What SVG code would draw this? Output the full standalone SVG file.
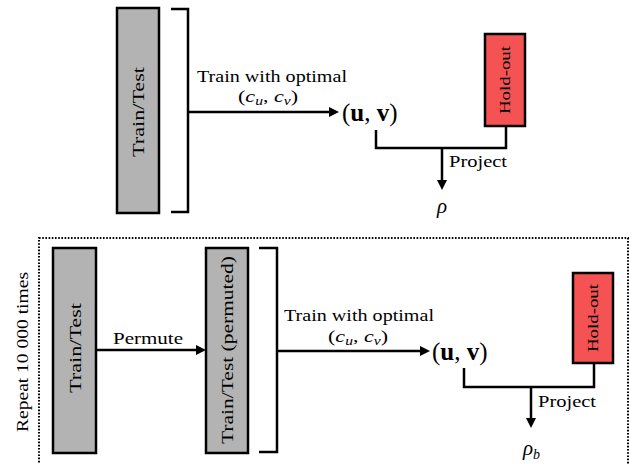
<svg xmlns="http://www.w3.org/2000/svg" width="635" height="464" viewBox="0 0 635 464">
<style>
  .box { stroke:#000; stroke-width:2.5; }
  .gray { fill:#b3b3b3; }
  .red { fill:#f55353; }
  .ln { fill:none; stroke:#000; stroke-width:2.5; }
  .dot { fill:none; stroke:#000; stroke-width:2; stroke-dasharray:1.6 1.6; }
  text { font-family:"Liberation Serif", "DejaVu Serif", "Noto Serif", serif; fill:#000; }
  .lab { font-size:17px; }
  .mid { text-anchor:middle; }
  .math { font-size:17px; }
  .uv { font-size:25px; }
  .it { font-style:italic; }
  .bf { font-weight:bold; }
</style>
<defs>
  <marker id="ah" viewBox="0 0 10 10" refX="1" refY="5" markerWidth="10" markerHeight="10" markerUnits="userSpaceOnUse" orient="auto">
    <path d="M0,0 L10,5 L0,10 Z" fill="#000"/>
  </marker>
</defs>

<rect class="dot" x="39" y="238" width="589" height="240"/>
<text class="lab mid" transform="rotate(-90 22 352)" x="22" y="358" textLength="160" lengthAdjust="spacingAndGlyphs">Repeat 10 000 times</text>

<g id="connectors">
  <path class="ln" d="M171,9 H188 V212 H171"/>
  <path class="ln" d="M188,112 H330" marker-end="url(#ah)"/>
  <path class="ln" d="M376,130 V148 H506 V126"/>
  <path class="ln" d="M442,148 V181" marker-end="url(#ah)"/>
  <path class="ln" d="M96,350 H197" marker-end="url(#ah)"/>
  <path class="ln" d="M259,248 H277 V452 H259"/>
  <path class="ln" d="M277,351 H421" marker-end="url(#ah)"/>
  <path class="ln" d="M464,368 V387 H594 V363"/>
  <path class="ln" d="M531,387 V419" marker-end="url(#ah)"/>
  <text class="lab mid" x="272" y="82" textLength="150" lengthAdjust="spacingAndGlyphs">Train with optimal</text>
  <text class="math mid" x="268" y="102" textLength="60" lengthAdjust="spacingAndGlyphs">(<tspan class="it">c</tspan><tspan class="it" font-size="12" dy="3">u</tspan><tspan dy="-3">, </tspan><tspan class="it">c</tspan><tspan class="it" font-size="12" dy="3">v</tspan><tspan dy="-3">)</tspan></text>
  <text class="lab" x="449" y="167" textLength="58" lengthAdjust="spacingAndGlyphs">Project</text>
  <text class="lab mid" x="148" y="344" textLength="70" lengthAdjust="spacingAndGlyphs">Permute</text>
  <text class="lab mid" x="359" y="321" textLength="150" lengthAdjust="spacingAndGlyphs">Train with optimal</text>
  <text class="math mid" x="358" y="342" textLength="60" lengthAdjust="spacingAndGlyphs">(<tspan class="it">c</tspan><tspan class="it" font-size="12" dy="3">u</tspan><tspan dy="-3">, </tspan><tspan class="it">c</tspan><tspan class="it" font-size="12" dy="3">v</tspan><tspan dy="-3">)</tspan></text>
  <text class="lab" x="538" y="407" textLength="58" lengthAdjust="spacingAndGlyphs">Project</text>
</g>

<g id="traintest1">
  <rect class="box gray" x="117" y="8" width="42" height="205"/>
  <text class="lab mid" transform="rotate(-90 138 112)" x="138" y="118" textLength="90" lengthAdjust="spacingAndGlyphs">Train/Test</text>
</g>
<g id="uv1">
  <text class="uv" x="342" y="121">(<tspan class="bf">u</tspan>, <tspan class="bf">v</tspan>)</text>
</g>
<g id="holdout1">
  <rect class="box red" x="485" y="34" width="40" height="92"/>
  <text class="mid" font-size="15.5" transform="rotate(-90 505 80)" x="505" y="85" textLength="68" lengthAdjust="spacingAndGlyphs">Hold-out</text>
</g>
<g id="rho1">
  <text class="it mid" font-size="21" x="442" y="213">ρ</text>
</g>

<g id="traintest2">
  <rect class="box gray" x="53" y="248" width="43" height="205"/>
  <text class="lab mid" transform="rotate(-90 74.5 348)" x="74.5" y="354" textLength="90" lengthAdjust="spacingAndGlyphs">Train/Test</text>
</g>
<g id="permuted">
  <rect class="box gray" x="206" y="248" width="42" height="205"/>
  <text class="lab mid" transform="rotate(-90 227 350)" x="227" y="356" textLength="188" lengthAdjust="spacingAndGlyphs">Train/Test (permuted)</text>
</g>
<g id="uv2">
  <text class="uv" x="432" y="360">(<tspan class="bf">u</tspan>, <tspan class="bf">v</tspan>)</text>
</g>
<g id="holdout2">
  <rect class="box red" x="573" y="273" width="40" height="90"/>
  <text class="mid" font-size="15.5" transform="rotate(-90 593 318)" x="593" y="323" textLength="68" lengthAdjust="spacingAndGlyphs">Hold-out</text>
</g>
<g id="rhob">
  <text class="it" font-size="21" x="523" y="455">ρ<tspan font-size="14" dy="4">b</tspan></text>
</g>
</svg>
